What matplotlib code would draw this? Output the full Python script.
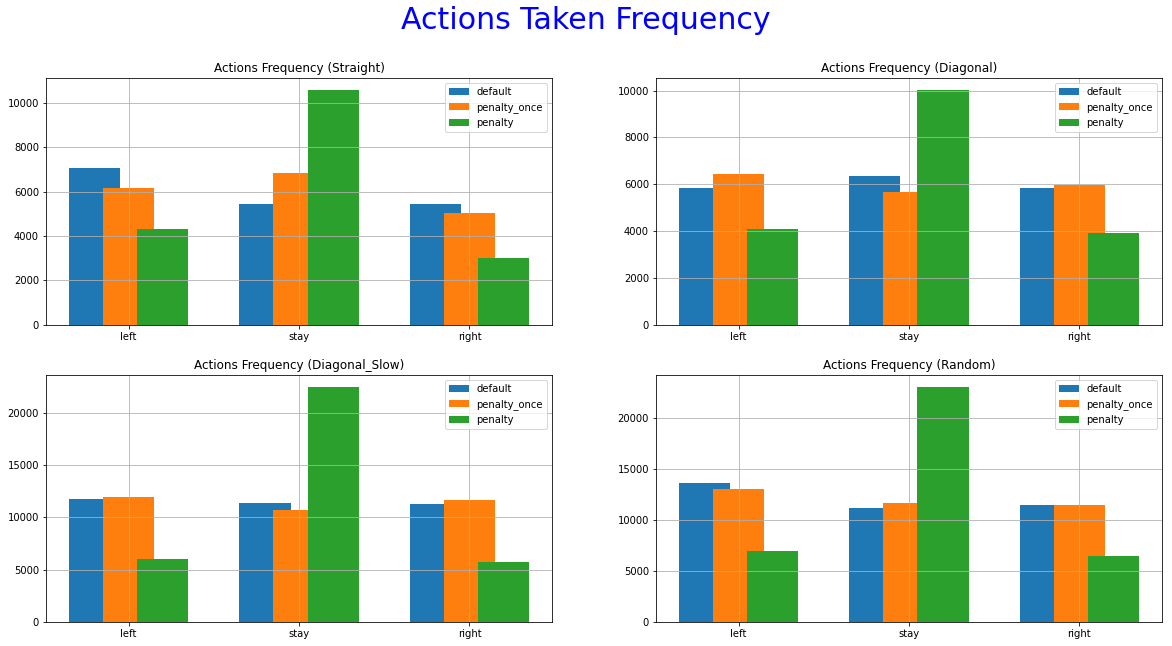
import numpy as np
import matplotlib
matplotlib.use("Agg")
import matplotlib.pyplot as plt

actions = ["left", "stay", "right"]
series = ["default", "penalty_once", "penalty"]

straight_default = [7070, 5460, 5460]
straight_once = [6140, 6850, 5020]
straight_penalty = [4330, 10590, 3020]

diagonal_default = [5830, 6340, 5830]
diagonal_once = [6420, 5650, 5970]
diagonal_penalty = [4100, 10040, 3900]

slow_default = [11700, 11320, 11230]
slow_once = [11900, 10660, 11610]
slow_penalty = [6010, 22440, 5730]

random_default = [13690, 11150, 11440]
random_once = [13010, 11640, 11440]
random_penalty = [6960, 23060, 6470]

panels = [
    ("Straight", [straight_default, straight_once, straight_penalty]),
    ("Diagonal", [diagonal_default, diagonal_once, diagonal_penalty]),
    ("Diagonal_Slow", [slow_default, slow_once, slow_penalty]),
    ("Random", [random_default, random_once, random_penalty]),
]

fig, axes = plt.subplots(2, 2, figsize=(1172 / 72, 646 / 72), dpi=72)
fig.subplots_adjust(left=46 / 1172, right=1162 / 1172,
                    bottom=1 - 622 / 646, top=1 - 78 / 646,
                    wspace=0.205, hspace=0.205)

x = np.arange(len(actions))
offsets = [-0.2, 0.0, 0.2]
for ax, (name, vals) in zip(axes.flat, panels):
    for off, label, v in zip(offsets, series, vals):
        ax.bar(x + off, v, width=0.3, label=label)
    ax.set_xticks(x)
    ax.set_xticklabels(actions)
    ax.set_title("Actions Frequency (%s)" % name, fontsize=12)
    ax.grid(True)
    ax.legend(loc="upper right", fontsize=10)
    ax.tick_params(labelsize=10)

fig.suptitle("Actions Taken Frequency", fontsize=30, color="blue", y=0.99)
fig.savefig("out.png", dpi=72)
